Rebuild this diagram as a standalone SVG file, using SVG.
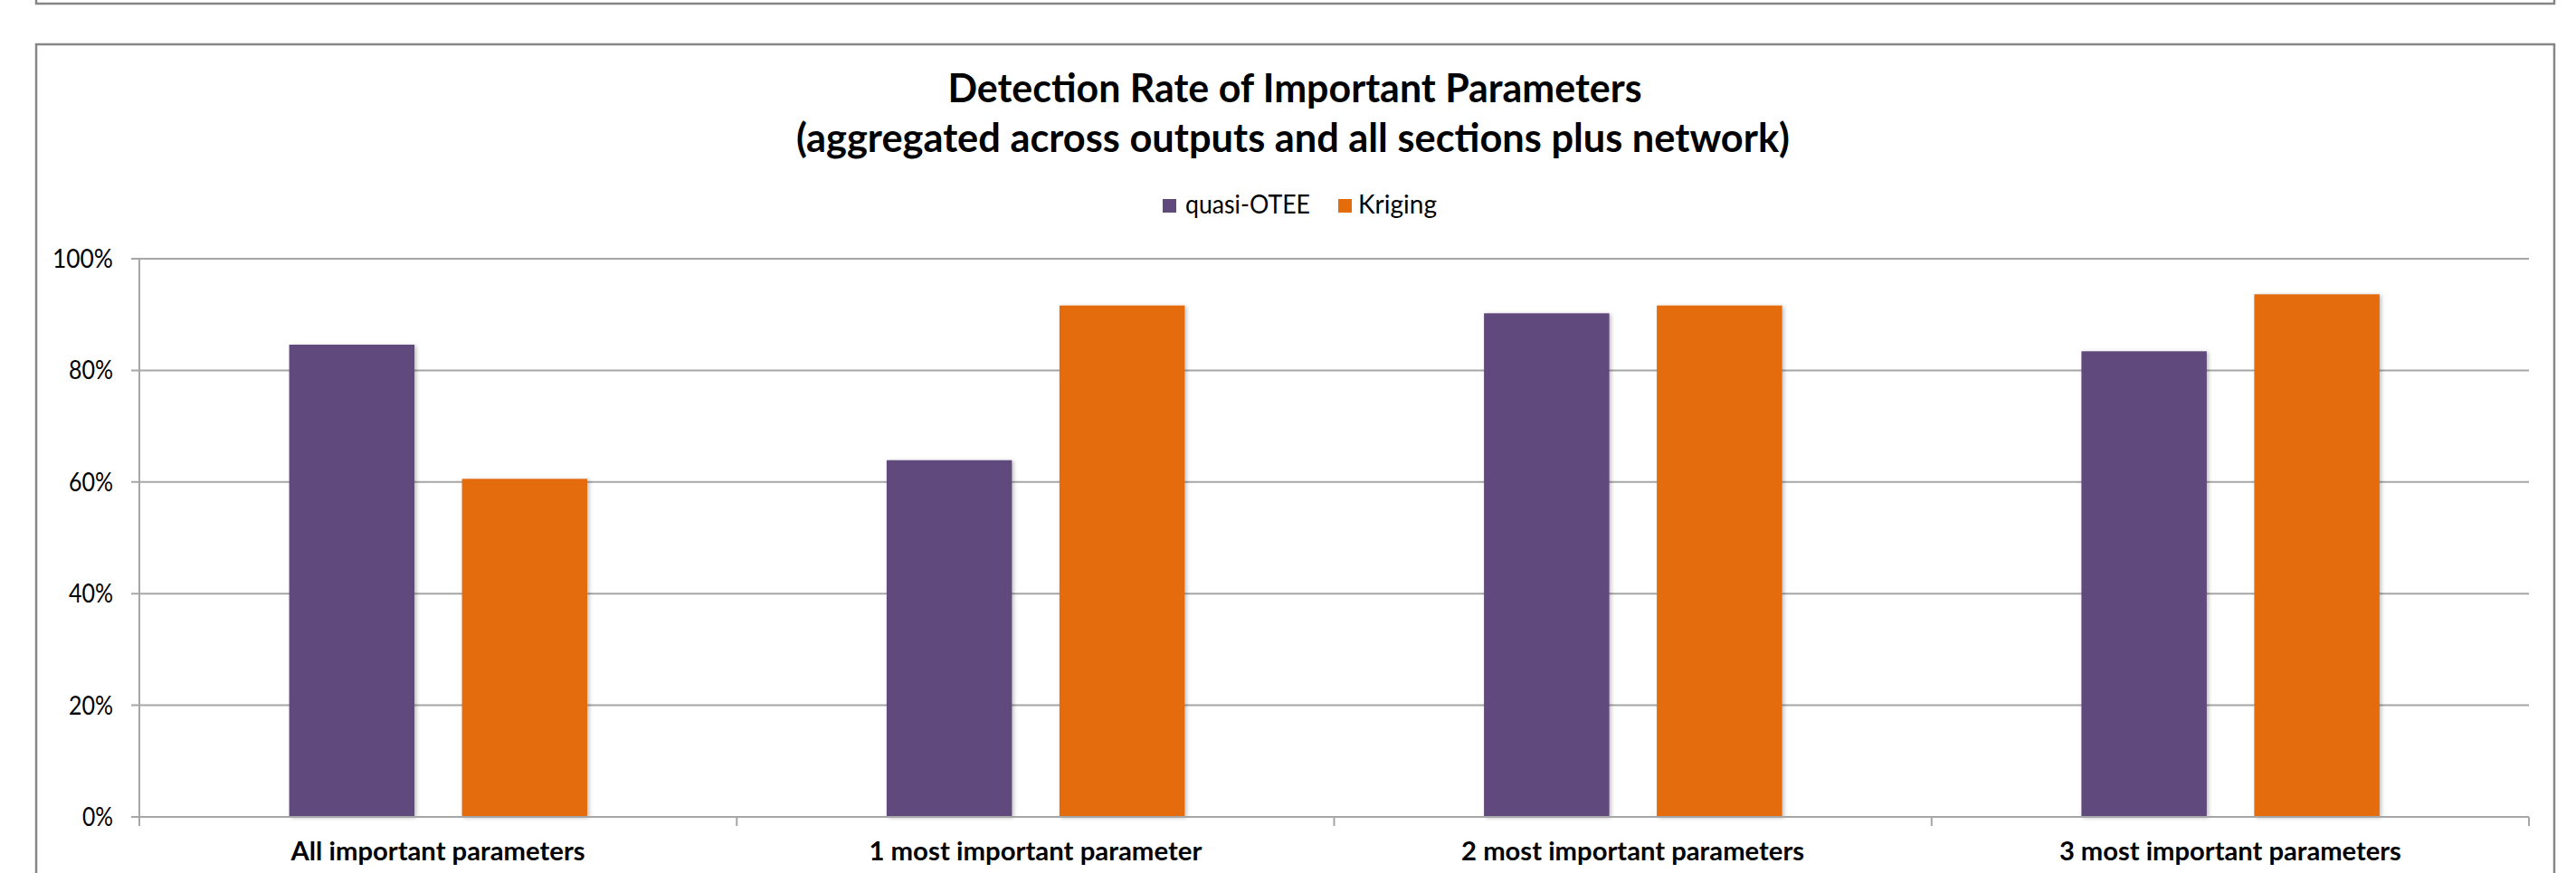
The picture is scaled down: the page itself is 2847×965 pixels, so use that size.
<svg xmlns="http://www.w3.org/2000/svg" width="2847" height="965" viewBox="0 0 2847 965">
<style>
.frame{fill:#ffffff;stroke:#868686;stroke-width:2.5}
.grid{stroke:#a6a6a6;stroke-width:2;fill:none}
.axis{stroke:#a6a6a6;stroke-width:2;fill:none}
.title{font-family:Lato,"Liberation Sans",sans-serif;font-weight:bold;font-size:43px;fill:#000;text-anchor:middle}
.leg{font-family:Lato,"Liberation Sans",sans-serif;font-size:28px;fill:#000}
.val{font-family:Lato,"Liberation Sans",sans-serif;font-size:28px;fill:#000;text-anchor:end}
.cat{font-family:Lato,"Liberation Sans",sans-serif;font-weight:bold;font-size:29px;fill:#000;text-anchor:middle}
.p{fill:#604A7B}
.o{fill:#E46C0A}
</style>
<defs>
<filter id="sh" x="-10%" y="-5%" width="120%" height="110%">
<feDropShadow dx="2" dy="1" stdDeviation="2" flood-color="#000" flood-opacity="0.25"/>
</filter>
</defs>
<rect width="2847" height="965" fill="#ffffff"/>
<g id="prev-chart">
<rect class="frame" x="40" y="-100" width="2783" height="104"/>
</g>
<g id="chart-frame">
<rect class="frame" x="40" y="49" width="2783" height="960"/>
</g>
<g id="title">
<text class="title" x="1431" y="113" textLength="767" lengthAdjust="spacingAndGlyphs">Detection Rate of Important Parameters</text>
<text class="title" x="1429" y="168" textLength="1098" lengthAdjust="spacingAndGlyphs">(aggregated across outputs and all sections plus network)</text>
</g>
<g id="legend">
<rect class="p" x="1285" y="220" width="15" height="15"/>
<text class="leg" x="1310" y="236" textLength="138" lengthAdjust="spacingAndGlyphs">quasi-OTEE</text>
<rect class="o" x="1479" y="220" width="15" height="15"/>
<text class="leg" x="1501" y="236" textLength="87" lengthAdjust="spacingAndGlyphs">Kriging</text>
</g>
<g id="connectors">
<path class="grid" d="M145 286H2795M145 409.4H2795M145 532.8H2795M145 656.2H2795M145 779.6H2795"/>
<path class="axis" d="M154 286V913"/>
</g>
<g id="value-labels">
<text class="val" x="125" y="296" textLength="67" lengthAdjust="spacingAndGlyphs">100%</text>
<text class="val" x="125" y="419" textLength="49" lengthAdjust="spacingAndGlyphs">80%</text>
<text class="val" x="125" y="543" textLength="49" lengthAdjust="spacingAndGlyphs">60%</text>
<text class="val" x="125" y="666" textLength="49" lengthAdjust="spacingAndGlyphs">40%</text>
<text class="val" x="125" y="790" textLength="49" lengthAdjust="spacingAndGlyphs">20%</text>
<text class="val" x="125" y="913" textLength="34" lengthAdjust="spacingAndGlyphs">0%</text>
</g>
<g id="cat-all">
<rect class="p" filter="url(#sh)" x="319.6" y="381" width="138.5" height="522"/>
<rect class="o" filter="url(#sh)" x="510.6" y="529.3" width="138.5" height="373.7"/>
<text class="cat" x="484.1" y="951" textLength="325" lengthAdjust="spacingAndGlyphs">All important parameters</text>
</g>
<g id="cat-1">
<rect class="p" filter="url(#sh)" x="979.9" y="508.7" width="138.5" height="394.3"/>
<rect class="o" filter="url(#sh)" x="1170.9" y="337.7" width="138.5" height="565.3"/>
<text class="cat" x="1144.4" y="951" textLength="368" lengthAdjust="spacingAndGlyphs">1 most important parameter</text>
</g>
<g id="cat-2">
<rect class="p" filter="url(#sh)" x="1640.1" y="346.3" width="138.5" height="556.7"/>
<rect class="o" filter="url(#sh)" x="1831.1" y="337.7" width="138.5" height="565.3"/>
<text class="cat" x="1804.6" y="951" textLength="379" lengthAdjust="spacingAndGlyphs">2 most important parameters</text>
</g>
<g id="cat-3">
<rect class="p" filter="url(#sh)" x="2300.4" y="388.3" width="138.5" height="514.7"/>
<rect class="o" filter="url(#sh)" x="2491.4" y="325.3" width="138.5" height="577.7"/>
<text class="cat" x="2464.9" y="951" textLength="378" lengthAdjust="spacingAndGlyphs">3 most important parameters</text>
</g>
<g id="base-axis">
<path class="axis" d="M145 903H2795M814.3 903V913M1474.5 903V913M2134.8 903V913M2795 903V913"/>
</g>
</svg>
